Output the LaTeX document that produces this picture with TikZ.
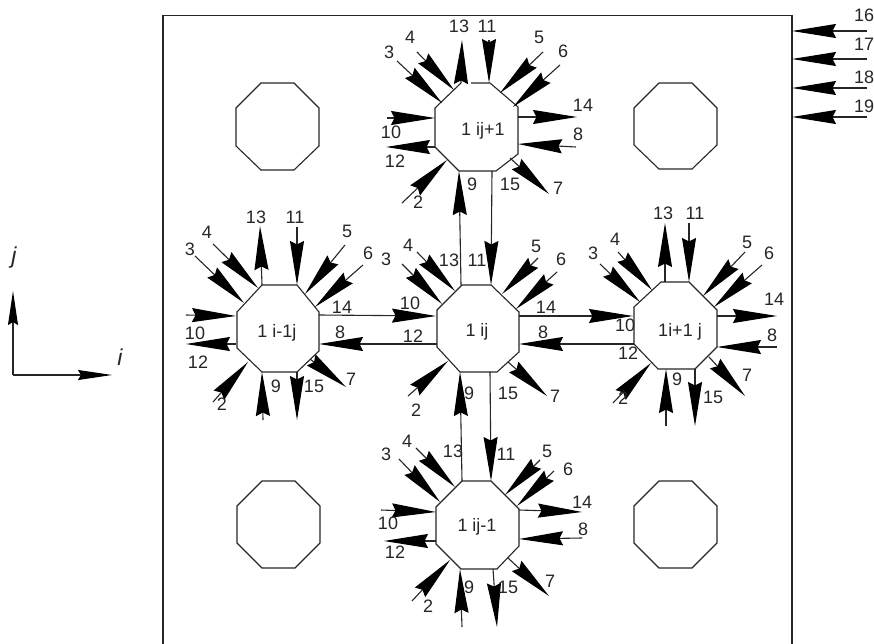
\documentclass[tikz,border=0pt]{standalone}
\usepackage{fontspec}
\setmainfont{Liberation Sans}
\usetikzlibrary{arrows.meta}
\definecolor{ink}{HTML}{262626}
\tikzset{
  flow/.style={draw=ink,line width=1.1pt,-{Stealth[length=44pt,width=14pt,inset=3.5pt,color=black]}},
  axisflow/.style={draw=ink,line width=1.1pt,-{Stealth[length=34pt,width=10pt,inset=3pt,color=black]}},
  cell/.style={draw=ink,line width=1.1pt,line join=miter},
  frame/.style={draw=ink,line width=1.2pt},
  lab/.style={inner sep=0pt,font=\fontsize{18}{18}\selectfont,text=ink},
  axlab/.style={inner sep=0pt,font=\fontsize{23}{23}\selectfont\itshape,text=ink}
}
\newcommand{\Fl}[3]{\coordinate (#1a) at (#2);\coordinate (#1b) at (#3);\draw[flow] (#1a) -- (#1b);}
\newcommand{\Lb}[3]{\node[lab] (#1) at (#2) {#3};}
\begin{document}
\begin{tikzpicture}[x=1pt,y=-1pt]
\useasboundingbox (0,0) rectangle (874,644);
% frame
\draw[frame] (163,644) -- (163,15.5) -- (792,15.5) -- (792,644);
% blank cells
\draw[cell] (236,108)--(261,83)--(294,83)--(319,108)--(319,146)--(294,170)--(261,170)--(236,146)--cycle;
\draw[cell] (634,108)--(659,83)--(692,83)--(717,108)--(717,145)--(692,169)--(659,169)--(634,145)--cycle;
\draw[cell] (237,506)--(262,481)--(295,481)--(320,506)--(320,543)--(295,568)--(262,568)--(237,543)--cycle;
\draw[cell] (634,506)--(659,481)--(692,481)--(717,506)--(717,543)--(692,568)--(659,568)--(634,543)--cycle;
% occupied cells
\draw[cell] (471,83)--(490,83)--(518,107)--(518,154)--(496,171)--(459,171)--(435,147)--(435,108)--(461,83);
\draw[cell] (237,312)--(262,285)--(297,285)--(319,312)--(319,351)--(297,372)--(262,372)--(237,348)--cycle;
\draw[cell] (437,310)--(462,285)--(491,285)--(519,312)--(519,352)--(497,372)--(460,372)--(437,347)--cycle;
\draw[cell] (634,307)--(661,282)--(689,282)--(717,310)--(717,347)--(695,369)--(658,369)--(634,344)--cycle;
\draw[cell] (436,507)--(462,481)--(491,481)--(519,509)--(519,546)--(497,569)--(461,569)--(436,544)--cycle;
% cell names
\Lb{ntop}{483,131}{1 ij+1}
\Lb{nleft}{277,333}{1 i-1j}
\Lb{ncen}{477,332}{1 ij}
\Lb{nright}{680,332}{1i+1 j}
\Lb{nbot}{477,527}{1 ij-1}
% top cell
\Fl{t3}{397,61}{442,103}
\Fl{t4}{417,52}{454,90}
\Fl{t13}{461,83}{462,40}
\Fl{t11}{489,40}{489,83}
\Fl{t5}{543,52}{500,93}
\Fl{t6}{560,65}{513,107}
\Fl{t14}{518,117}{577,117}
\Fl{t8}{576,147}{518,144}
\Fl{t7}{510,158}{549,194}
\Fl{t2}{402,203}{447,160}
\Fl{t10}{387,118}{435,118}
\Fl{t12}{435,147}{386,147}
\Fl{tc9}{461,285}{459,171}
\Fl{tc15}{492,171}{491,285}
\Lb{lt3}{389,52}{3}\Lb{lt4}{410,37}{4}\Lb{lt13}{459,26}{13}\Lb{lt11}{487,26}{11}
\Lb{lt5}{539,37}{5}\Lb{lt6}{563,51}{6}\Lb{lt14}{583,105}{14}\Lb{lt8}{578,134}{8}
\Lb{lt7}{558,188}{7}\Lb{lt15}{510,184}{15}\Lb{lt9}{472,184}{9}\Lb{lt2}{418,202}{2}
\Lb{lt10}{391,132}{10}\Lb{lt12}{395,161}{12}
% left cell
\Fl{l3}{195,256}{244,303}
\Fl{l4}{213,244}{258,288}
\Fl{l13}{262,285}{260,226}
\Fl{l11}{297,227}{297,285}
\Fl{l5}{345,245}{305,294}
\Fl{l6}{363,265}{315,307}
\Fl{lc14}{319,315}{436,316}
\Fl{lc8}{437,344}{319,344}
\Fl{l7}{310,359}{346,387}
\Fl{l15}{297,372}{297,420}
\Fl{l9}{263,420}{262,372}
\Fl{l2}{213,402}{248,362}
\Fl{l10}{186,315}{236,316}
\Fl{l12}{236,344}{186,344}
\Lb{ll3}{190,249}{3}\Lb{ll4}{207,232}{4}\Lb{ll13}{256,217}{13}\Lb{ll11}{295,217}{11}
\Lb{ll5}{347,231}{5}\Lb{ll6}{368,253}{6}\Lb{ll14}{342,307}{14}\Lb{ll8}{340,332}{8}
\Lb{ll7}{351,379}{7}\Lb{ll15}{314,386}{15}\Lb{ll9}{276,386}{9}\Lb{ll2}{222,404}{2}
\Lb{ll10}{195,333}{10}\Lb{ll12}{198,362}{12}
% centre cell
\Fl{c3}{402,264}{442,304}
\Fl{c4}{417,252}{455,291}
\Fl{c5}{538,258}{502,294}
\Fl{c6}{557,272}{516,309}
\Fl{cr14}{519,316}{633,316}
\Fl{cr8}{634,344}{519,344}
\Fl{c7}{508,362}{547,396}
\Fl{c2}{408,396}{448,361}
\Fl{cb15}{490,372}{491,481}
\Fl{cb9}{462,481}{460,372}
\Lb{lc3}{386,259}{3}\Lb{lc4}{408,245}{4}\Lb{lc13}{449,260}{13}\Lb{lc11}{477,260}{11}
\Lb{lc5}{536,246}{5}\Lb{lc6}{561,259}{6}\Lb{lc14}{546,307}{14}\Lb{lc8}{543,332}{8}
\Lb{lc7}{555,396}{7}\Lb{lc15}{508,393}{15}\Lb{lc9}{469,393}{9}\Lb{lc2}{416,410}{2}
\Lb{lc10}{410,303}{10}\Lb{lc12}{413,336}{12}
% right cell
\Fl{r3}{600,264}{640,302}
\Fl{r4}{618,252}{652,290}
\Fl{r13}{665,282}{665,223}
\Fl{r11}{689,223}{689,282}
\Fl{r5}{745,252}{703,296}
\Fl{r6}{762,265}{714,307}
\Fl{r14}{717,316}{777,316}
\Fl{r8}{777,347}{717,347}
\Fl{r7}{709,357}{745,396}
\Fl{r15}{695,369}{695,426}
\Fl{r9}{666,426}{666,369}
\Fl{r2}{613,403}{651,363}
\Lb{lr3}{593,253}{3}\Lb{lr4}{615,239}{4}\Lb{lr13}{663,213}{13}\Lb{lr11}{695,213}{11}
\Lb{lr5}{747,242}{5}\Lb{lr6}{769,253}{6}\Lb{lr14}{774,299}{14}\Lb{lr8}{772,335}{8}
\Lb{lr7}{747,375}{7}\Lb{lr15}{713,397}{15}\Lb{lr9}{677,379}{9}\Lb{lr2}{623,398}{2}
\Lb{lr10}{625,325}{10}\Lb{lr12}{628,353}{12}
% bottom cell
\Fl{b3}{399,459}{440,502}
\Fl{b4}{416,448}{455,487}
\Fl{b5}{540,460}{505,495}
\Fl{b6}{554,471}{517,506}
\Fl{b14}{519,510}{582,512}
\Fl{b8}{582,538}{519,539}
\Fl{b7}{508,558}{549,596}
\Fl{b15}{493,569}{497,627}
\Fl{b9}{462,627}{460,569}
\Fl{b2}{412,601}{450,560}
\Fl{b10}{381,510}{436,512}
\Fl{b12}{436,541}{384,541}
\Lb{lb3}{386,454}{3}\Lb{lb4}{407,441}{4}\Lb{lb13}{453,451}{13}\Lb{lb11}{506,454}{11}
\Lb{lb5}{547,451}{5}\Lb{lb6}{568,469}{6}\Lb{lb14}{582,502}{14}\Lb{lb8}{583,529}{8}
\Lb{lb7}{550,581}{7}\Lb{lb15}{508,587}{15}\Lb{lb9}{469,587}{9}\Lb{lb2}{428,606}{2}
\Lb{lb10}{388,523}{10}\Lb{lb12}{395,552}{12}
% wall flows
\Fl{w16}{867,31}{792,31}
\Fl{w17}{867,59}{792,59}
\Fl{w18}{867,88}{792,88}
\Fl{w19}{867,117}{792,117}
\Lb{lw16}{864,15}{16}\Lb{lw17}{864,44}{17}\Lb{lw18}{864,77}{18}\Lb{lw19}{864,106}{19}
% axes
\coordinate (ao) at (13,375);
\coordinate (aj) at (13,291);
\coordinate (ai) at (112,375);
\draw[axisflow] (ao) -- (aj);
\draw[axisflow] (ao) -- (ai);
\node[axlab] (lj) at (14,258) {j};
\node[axlab] (li) at (120,357) {i};
\end{tikzpicture}
\end{document}
